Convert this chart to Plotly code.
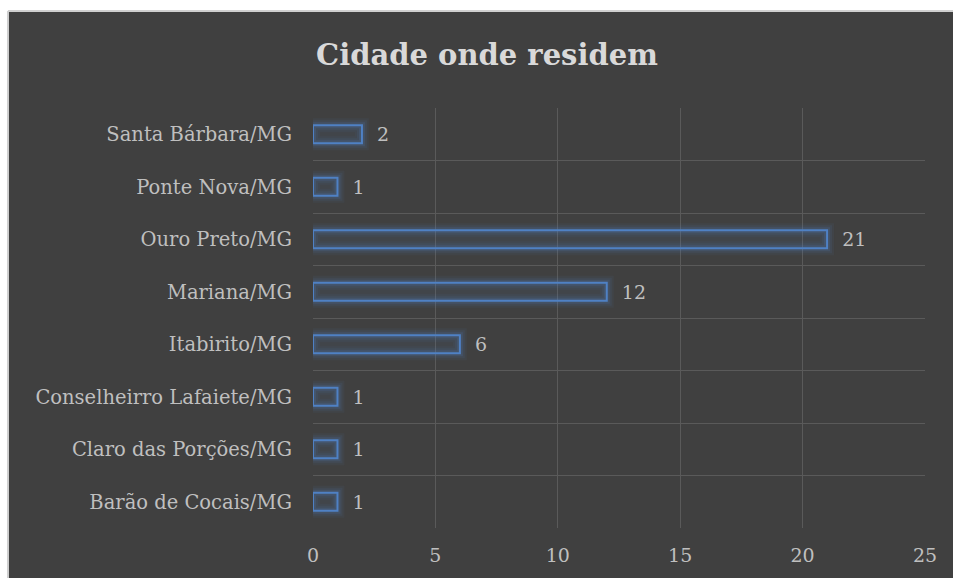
"""
Horizontal bar chart: Cidade onde residem.
"""

import plotly.graph_objects as go

cidades = ['Barão de Cocais/MG', 'Claro das Porções/MG', 'Conselheirro Lafaiete/MG',
           'Itabirito/MG', 'Mariana/MG', 'Ouro Preto/MG', 'Ponte Nova/MG', 'Santa Bárbara/MG']
respostas = [1, 1, 1, 6, 12, 21, 1, 2]
x_ticks = [0, 5, 10, 15, 20, 25]

BLUE = '#4f81c4'
TEXT = '#bfbfbf'
TITLE = '#d9d9d9'
FONT = 'DejaVu Serif'

fig = go.Figure()

# soft glow around the bars
for w, a in [(14, 0.06), (10, 0.09), (6, 0.16)]:
    fig.add_trace(go.Bar(
        y=cidades, x=respostas, orientation='h', width=0.34,
        marker=dict(color='rgba(0,0,0,0)', line=dict(color=f'rgba(79,129,196,{a})', width=w)),
        hoverinfo='skip', showlegend=False
    ))

fig.add_trace(go.Bar(
    y=cidades, x=respostas, orientation='h', width=0.34,
    marker=dict(color='rgba(79,129,196,0.08)', line=dict(color=BLUE, width=2)),
    text=respostas, texttemplate='  %{x}', textposition='outside', cliponaxis=False,
    constraintext='none', textfont=dict(color=TEXT, size=19, family=FONT),
    showlegend=False
))

fig.update_layout(
    width=953, height=578,
    barmode='overlay',
    margin=dict(l=313, r=28, t=108, b=50),
    paper_bgcolor='#404040',
    plot_bgcolor='#404040',
    title=dict(text='<b>Cidade onde residem</b>', x=0.511, xref='container', xanchor='center',
               y=0.905, yref='container', yanchor='middle',
               font=dict(size=29, color=TITLE, family=FONT)),
    font=dict(family=FONT, color=TEXT, size=19),
    shapes=[
        # white page around the chart box
        dict(type='rect', xref='paper', yref='paper', x0=-0.6, x1=1.1, y0=1.233, y1=1.4,
             fillcolor='white', line=dict(width=0), layer='above'),
        dict(type='rect', xref='paper', yref='paper', x0=-0.6, x1=-0.4984, y0=-0.2, y1=1.4,
             fillcolor='white', line=dict(width=0), layer='above'),
        dict(type='line', xref='paper', yref='paper', x0=-0.4984, x1=1.1, y0=1.231, y1=1.231,
             line=dict(color='#d0d0d0', width=2), layer='above'),
        dict(type='line', xref='paper', yref='paper', x0=-0.4984, x1=-0.4984, y0=-0.2, y1=1.231,
             line=dict(color='#d0d0d0', width=2), layer='above'),
    ]
)

fig.update_xaxes(range=[0, 25], tickvals=x_ticks, showgrid=True, gridcolor='#5a5a5a', gridwidth=1,
                 zeroline=False, showline=False, ticks='', ticklabelstandoff=14,
                 tickfont=dict(size=19, color=TEXT))
fig.update_yaxes(type='category', tickson='boundaries', showgrid=True, gridcolor='#5a5a5a', gridwidth=1,
                 ticks='', ticklen=0, showline=False, ticklabelstandoff=20,
                 tickfont=dict(size=19.5, color=TEXT))

fig.write_html('out.html', config={'displayModeBar': False},
               post_script="document.body.style.margin='0';document.body.style.overflow='hidden';")
